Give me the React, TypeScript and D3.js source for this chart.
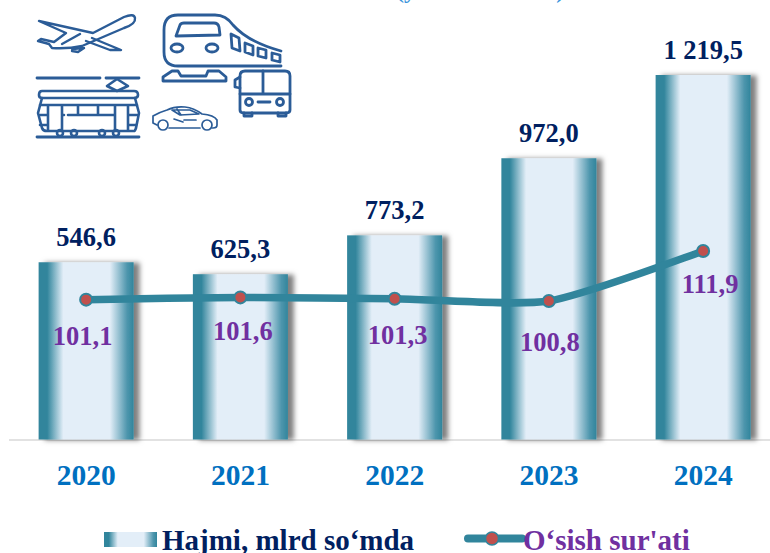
import React from "react";
import * as d3 from "d3";

const years = ["2020", "2021", "2022", "2023", "2024"];
const volumeLabels = ["546,6", "625,3", "773,2", "972,0", "1 219,5"];
// Bar heights in the picture are not proportional to their labels: these are read from the bars.
const volumeDrawn = [593, 553, 683, 941, 1219.5];
const growth = [101.1, 101.6, 101.3, 100.8, 111.9];
const growthLabels = ["101,1", "101,6", "101,3", "100,8", "111,9"];
const legendBar = "Hajmi, mlrd so‘mda";
const legendLine = "O‘sish sur'ati";
const titleText = "(yillar kesimida)";

// hand-placed offsets of the purple labels from their points
const growthDx = [-3.5, 2.5, 3, 1, 7];
const growthDy = [45.5, 42.6, 45, 49.5, 42];

const W = 770, H = 553;
const serif = "'Liberation Serif', 'Times New Roman', serif";
const ICON = "#2b5c97";
const TEAL = "#31859c";

const x = d3.scaleBand<string>().domain(years).range([9.0, 780.25]).paddingInner(0.384).paddingOuter(0.192);
const yBar = d3.scaleLinear().domain([0, 1219.5]).range([439.5, 75]);
const yLine = d3.scaleLinear().domain([100.8, 111.9]).range([301, 251]);
const cx = (y: string) => x(y)! + x.bandwidth() / 2;

const linePath = d3.line<number>()
  .x((_, i) => cx(years[i]))
  .y((d) => yLine(d))
  .curve(d3.curveCardinal.tension(0.35));

const Gradient = ({ id }: { id: string }) => (
  <linearGradient id={id} x1="0" x2="1" y1="0" y2="0">
    <stop offset="0" stopColor={TEAL} />
    <stop offset="0.09" stopColor={TEAL} />
    <stop offset="0.26" stopColor="#e3eef8" />
    <stop offset="0.75" stopColor="#e3eef8" />
    <stop offset="0.93" stopColor="#4e96ad" />
    <stop offset="1" stopColor={TEAL} />
  </linearGradient>
);

const Icons = () => (
  <g fill="none" stroke={ICON} strokeLinejoin="round" strokeLinecap="round">
    {/* plane */}
    <g strokeWidth="2.4">
      <path d="M39 21 L93 33 L124 17 Q134 13 135 18 Q136 24 124 28 L82 46 Q68 49 52 48 L49 44 L38 41 L41 39 L54 42 L66 33 Z" />
      <path d="M92 38 L121 50 L110 50 L86 41 M72 49 L84 48 L78 52 L72 51 M62 44 L80 34" />
    </g>
    {/* train */}
    <g strokeWidth="2.8">
      <path d="M178 15 L215 15 Q226 15 233 25 Q248 42 281 51 M281 66 L178 66 Q164 66 164 52 L164 30 Q164 15 178 15" />
      <path d="M176 36 L180 25 Q181 23 184 23 L214 23 Q218 23 219 27 L220 35 L176 36 Z" />
      <ellipse cx="177" cy="48" rx="6" ry="4" />
      <ellipse cx="212" cy="48" rx="6" ry="4" />
      <path d="M231 34 L239 38 L240 51 L232 48 Z M245 43 L253 46 L253 55 L245 52 Z M258 48 L266 50 L266 58 L258 56 Z M272 53 L280 55 L280 62 L272 60 Z" />
      <path d="M172 71 L178 71 L181 76 L206 76 L208 71 L219 71 L226 77 L226 81 L163 81 L163 77 Z" />
    </g>
    {/* bus */}
    <g strokeWidth="2.8">
      <path d="M240 76 Q240 71 245 71 L285 71 Q290 71 290 76 L290 110 Q290 113 286 113 L244 113 Q240 113 240 110 Z" />
      <path d="M240 77 L235 80 L235 87 L240 88" />
      <path d="M240 94 L290 94 M263 71 L263 94" />
      <circle cx="249" cy="102" r="3.5" />
      <circle cx="280" cy="102" r="3.5" />
      <path d="M258 102 L270 102 M244 113 L244 116 L252 116 L252 113 M278 113 L278 116 L286 116 L286 113" />
    </g>
    {/* tram */}
    <g strokeWidth="2.6">
      <path d="M37 78 L100 78 M106 78 L139 78" strokeWidth="2.8" />
      <path d="M117 79 L107 86 L117 91 L128 86 Z" />
      <path d="M42 91 L134 91 Q138 91 138 95 Q138 98 134 98 L42 98 Q39 98 39 95 Q39 91 42 91 Z" />
      <path d="M42 98 L38 113 L42 128 Q43 131 47 131 L134 131 Q135 131 136 128 L139 113 L135 98" />
      <path d="M48 105 L48 130 M62 105 L62 130 M115 105 L115 130 M128 105 L128 130 M40 105 L137 105 M68 115 L115 115 M62 115 L64 115 M40 115 L48 115 M128 115 L137 115 M78 105 L78 115 M98 105 L98 115 M40 125 L48 125 M128 125 L136 125" />
      <path d="M37 137 L139 137" strokeWidth="2.8" />
      <circle cx="60" cy="133" r="3" />
      <circle cx="74" cy="133" r="3" />
      <circle cx="102" cy="133" r="3" />
      <circle cx="116" cy="133" r="3" />
    </g>
    {/* car */}
    <g strokeWidth="1.7">
      <path d="M153 120 L153 116 Q160 112 167 110 Q175 106 185 107 Q194 108 202 114 Q214 115 217 120 L217 125 Q217 128 213 128 L212 128 M200 128 L169 128 M157 125 L153 123 L153 120" />
      <circle cx="163" cy="125" r="5" />
      <circle cx="207" cy="125" r="5" />
      <path d="M172 110 L190 110 L199 114 L180 115 Z M177 109 L181 115 M174 119 L183 122 M184 120 L196 120" />
    </g>
  </g>
);

export default function App() {
  return (
    <svg
      width={W}
      height={H}
      viewBox={`0 0 ${W} ${H}`}
      style={{ position: "absolute", left: 0, top: 0, background: "#fff" }}
      fontFamily={serif}
      fontWeight="bold"
    >
      <defs>
        <Gradient id="barGrad" />
        <filter id="barShadow" x="-20%" y="-10%" width="140%" height="120%">
          <feDropShadow dx="6" dy="0.5" stdDeviation="2.8" floodColor="#000" floodOpacity="0.5" />
        </filter>
      </defs>

      {/* cut-off title at the top edge */}
      <text x="396" y="-2.5" fontSize="24" fill="#3a95dc">{titleText}</text>

      <line x1={9} x2={W} y1={440} y2={440} stroke="#d9d9d9" strokeWidth="1.5" />

      <g filter="url(#barShadow)">
        {years.map((yr, i) => (
          <rect key={yr} x={x(yr)} y={yBar(volumeDrawn[i])} width={x.bandwidth()} height={yBar(0) - yBar(volumeDrawn[i])} fill="url(#barGrad)" />
        ))}
      </g>

      <Icons />

      <path d={linePath(growth)!} fill="none" stroke={TEAL} strokeWidth="7.5" strokeLinecap="round" />
      {years.map((yr, i) => (
        <circle key={yr} cx={cx(yr)} cy={yLine(growth[i])} r="6" fill="#c0504d" stroke={TEAL} strokeWidth="2" />
      ))}

      {years.map((yr, i) => (
        <g key={yr} textAnchor="middle">
          <text x={cx(yr)} y={yBar(volumeDrawn[i]) - 16.5} fontSize="26.5" fill="#002060">{volumeLabels[i]}</text>
          <text x={cx(yr) + growthDx[i]} y={yLine(growth[i]) + growthDy[i]} fontSize="26.5" fill="#7030a0">{growthLabels[i]}</text>
          <text x={cx(yr)} y={485} fontSize="29.5" fill="#0070c0">{yr}</text>
        </g>
      ))}

      {/* legend */}
      <rect x={104} y={532} width={53} height={15} fill="url(#barGrad)" />
      <text x={162} y={550} fontSize="29" fill="#002060">{legendBar}</text>
      <line x1={468} x2={522} y1={538.5} y2={538.5} stroke={TEAL} strokeWidth="8" strokeLinecap="round" />
      <circle cx={492} cy={538.5} r="6.5" fill="#c0504d" stroke={TEAL} strokeWidth="1.5" />
      <text x={523} y={550} fontSize="29" fill="#7030a0">{legendLine}</text>
    </svg>
  );
}
